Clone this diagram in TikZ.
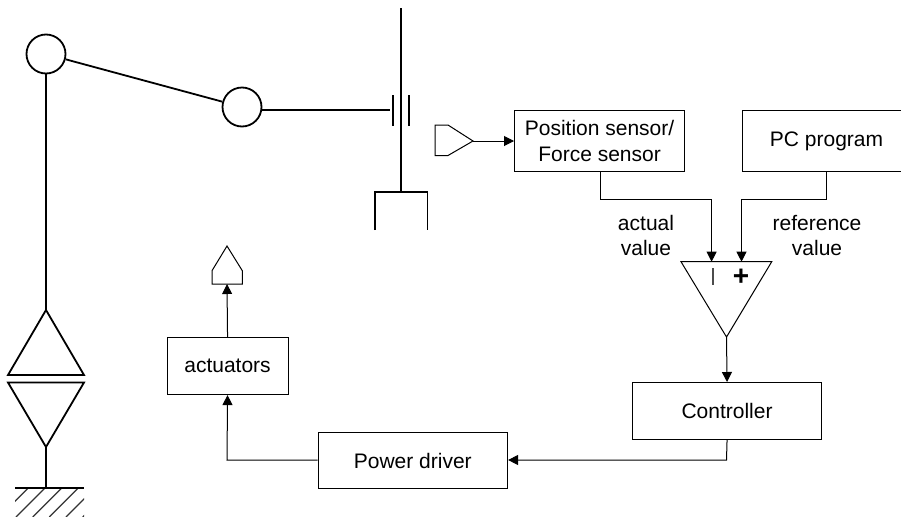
\documentclass[tikz,border=0pt]{standalone}
\usepackage{fontspec}
\setmainfont{Liberation Sans}
\usetikzlibrary{arrows.meta}
\tikzset{
  thickline/.style={line width=1.8pt,black},
  thinline/.style={line width=1pt,black},
  boxnode/.style={draw=black,line width=1.1pt,fill=white,inner sep=0pt,align=center,font=\fontsize{21}{25.4}\selectfont,anchor=north west},
  label/.style={inner sep=0pt,align=center,font=\fontsize{21}{25}\selectfont},
  arr/.style={thinline,-{Triangle[length=10pt,width=10pt]}},
  joint/.style={circle,draw=black,line width=1.8pt,minimum size=39pt,inner sep=0pt}
}
\begin{document}
\begin{tikzpicture}[x=1pt,y=-1pt]
\useasboundingbox (0,0) rectangle (901,517);
% mechanism
\node[joint] (j1) at (46,54) {};
\node[joint] (j2) at (242,107) {};
\coordinate (rodtop) at (401,8);
\coordinate (rodbot) at (401,192);
\draw[thickline] (rodtop) -- (rodbot);
\draw[thickline] (j1) -- (j2);
\draw[thickline] (j2.east |- 0,110) -- (390,110);
\draw[thickline] (393,95) -- (393,126);
\draw[thickline] (409,95) -- (409,126);
\draw[thickline] (375,230) -- (375,192) -- (427.5,192) -- (427.5,230);
\coordinate (tritop) at (46,310);
\coordinate (tribot) at (46,447);
\coordinate (gnd) at (46,488);
\draw[thickline] (j1) -- (tritop);
\draw[thickline,line join=miter] (tritop) -- (8,375) -- (84,375) -- cycle;
\draw[thickline,line join=miter] (tribot) -- (8,382.5) -- (84,382.5) -- cycle;
\draw[thickline] (tribot) -- (gnd);
\begin{scope}
\clip (15,488) rectangle (84,516);
\foreach \x in {28.3,45,61.7,78.3,95,111.7}
  \draw[line width=1.2pt,black!80] (\x,488) -- (\x-29,517);
\end{scope}
\draw[thickline] (15,488) -- (84,488);
% block diagram
\node[boxnode,minimum width=170pt,minimum height=61pt] (sensor) at (514,110) {Position sensor/\\Force sensor};
\node[boxnode,minimum width=169pt,minimum height=61pt] (pc) at (741.5,110) {PC program};
\node[boxnode,minimum width=189pt,minimum height=57pt] (ctrl) at (632,382) {Controller};
\node[boxnode,minimum width=189.5pt,minimum height=56pt] (drv) at (317.5,432) {Power driver};
\node[boxnode,minimum width=121pt,minimum height=57pt] (act) at (166.5,337) {actuators};
% sum triangle
\coordinate (sumL) at (711.6,261.7);
\coordinate (sumR) at (741.5,261.7);
\coordinate (sumB) at (726.5,337);
\draw[thinline,line join=miter] (681,261.7) -- (771.7,261.7) -- (sumB) -- cycle;
\node[label,font=\bfseries\fontsize{28}{28}\selectfont] (plus) at (741,277) {+};
\coordinate (minusa) at (713,268);
\coordinate (minusb) at (713,285);
\draw[line width=1.3pt,black!70] (minusa) -- (minusb);
% small pentagons
\coordinate (sp) at (473,141);
\draw[thinline,line join=miter] (435,125) -- (448,125) -- (sp) -- (448,155.5) -- (435,155.5) -- cycle;
\coordinate (ap) at (227,284);
\draw[thinline,line join=miter] (ap) -- (212,284) -- (212,270.7) -- (227,246) -- (242.3,270.7) -- (242.3,284) -- cycle;
% connectors
\draw[arr] (sp) -- (sensor.west |- sp);
\draw[arr] (sensor.south -| 600,0) -- (600,199.5) -- (711.6,199.5) -- (sumL);
\draw[arr] (pc.south -| 826.3,0) -- (826.3,199.5) -- (741.5,199.5) -- (sumR);
\draw[arr] (sumB) -- (ctrl.north);
\draw[arr] (ctrl.south) -- (726.5,460) -- (drv.east |- 0,460);
\draw[arr] (drv.west |- 0,460) -- (227,460) -- (act.south);
\draw[arr] (act.north) -- (ap);
% labels
\node[label] (lact) at (646,235) {actual\\value};
\node[label] (lref) at (817,235) {reference\\value};
\end{tikzpicture}
\end{document}
